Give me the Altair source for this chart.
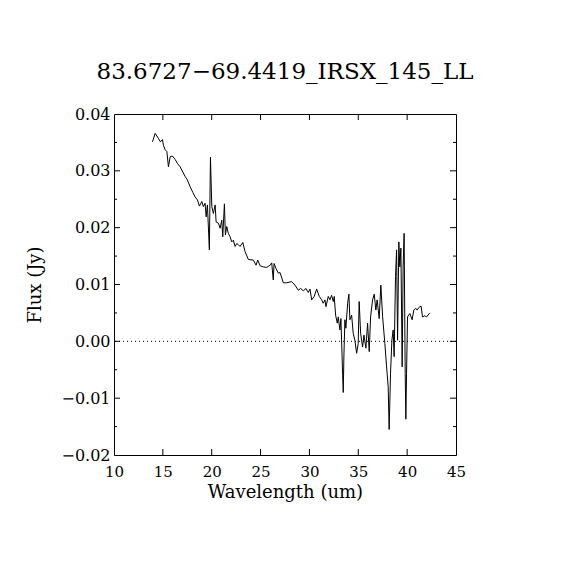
import altair as alt
import pandas as pd

# Spectrum
wavelength = [13.94, 14.21, 14.55, 14.75, 14.96, 15.06, 15.24, 15.41, 15.57, 15.75,
              15.98, 16.26, 16.49, 16.77, 17.04, 17.28, 17.51, 17.79, 18.07, 18.30,
              18.54, 18.74, 18.99, 19.15, 19.32, 19.43, 19.56, 19.76, 19.87, 20.01,
              20.17, 20.35, 20.45, 20.68, 20.86, 21.03, 21.13, 21.30, 21.40, 21.54,
              21.70, 21.88, 22.05, 22.22, 22.39, 22.56, 22.73, 22.90, 23.18, 23.41,
              23.75, 24.26, 24.54, 24.71, 24.95, 25.28, 25.63, 25.97, 26.14, 26.30,
              26.38, 26.58, 26.82, 26.99, 27.33, 27.67, 28.18, 28.52, 28.86, 29.10,
              29.37, 29.65, 29.88, 30.06, 30.23, 30.49, 30.74, 31.01, 31.25, 31.41,
              31.59, 31.69, 31.93, 32.10, 32.27, 32.44, 32.54, 32.68, 32.85, 32.95,
              33.12, 33.22, 33.40, 33.46, 33.53, 33.63, 33.73, 33.91, 34.04, 34.14,
              34.32, 34.48, 34.65, 34.83, 34.99, 35.09, 35.24, 35.44, 35.58, 35.78,
              35.95, 36.12, 36.26, 36.46, 36.63, 36.80, 36.93, 37.14, 37.31, 37.49,
              37.72, 37.90, 38.06, 38.16, 38.30, 38.44, 38.57, 38.67, 38.81, 38.92,
              39.02, 39.15, 39.25, 39.36, 39.49, 39.59, 39.69, 39.80, 39.87, 39.94,
              40.04, 40.28, 40.51, 40.68, 40.89, 41.02, 41.23, 41.43, 41.57, 41.81,
              41.98, 42.32]
flux = [0.0351, 0.0366, 0.0357, 0.0351, 0.0355, 0.0345, 0.0337, 0.0334, 0.0307, 0.0325,
        0.0326, 0.0320, 0.0313, 0.0307, 0.0298, 0.0290, 0.0284, 0.0272, 0.0262, 0.0254,
        0.0249, 0.0238, 0.0246, 0.0237, 0.0243, 0.0219, 0.0240, 0.0161, 0.0324, 0.0237,
        0.0225, 0.0240, 0.0210, 0.0208, 0.0199, 0.0213, 0.0184, 0.0242, 0.0187, 0.0202,
        0.0190, 0.0184, 0.0175, 0.0178, 0.0167, 0.0172, 0.0170, 0.0167, 0.0174, 0.0158,
        0.0144, 0.0143, 0.0134, 0.0143, 0.0133, 0.0131, 0.0130, 0.0134, 0.0138, 0.0108,
        0.0137, 0.0128, 0.0120, 0.0121, 0.0103, 0.0103, 0.0105, 0.0099, 0.0090, 0.0093,
        0.0089, 0.0093, 0.0086, 0.0092, 0.0073, 0.0079, 0.0092, 0.0079, 0.0073, 0.0067,
        0.0073, 0.0061, 0.0079, 0.0073, 0.0081, 0.0070, 0.0079, 0.0046, 0.0032, 0.0043,
        0.0020, 0.0040, -0.0059, -0.0090, -0.0024, 0.0038, 0.0023, 0.0067, 0.0083, 0.0038,
        0.0046, 0.0014, 0.0002, -0.0021, -0.0004, 0.0070, 0.0014, -0.0010, 0.0011, -0.0012,
        0.0032, -0.0018, 0.0043, 0.0073, 0.0083, 0.0055, 0.0073, 0.0040, 0.0099, 0.0043,
        -0.0004, -0.0045, -0.0080, -0.0155, -0.0056, 0.0002, 0.0020, -0.0027, 0.0114, 0.0161,
        0.0002, 0.0175, 0.0131, 0.0164, -0.0045, 0.0131, 0.0190, -0.0056, -0.0137, -0.0056,
        0.0043, 0.0049, 0.0038, 0.0055, 0.0058, 0.0055, 0.0060, 0.0062, 0.0043, 0.0045,
        0.0043, 0.0050]

title_text = "83.6727\u221269.4419_IRSX_145_LL"
x_title = "Wavelength (um)"
y_title = "Flux (Jy)"
x_label_values = [10, 15, 20, 25, 30, 35, 40, 45]
y_label_values = [-0.02, -0.01, 0.0, 0.01, 0.02, 0.03, 0.04]
x_major_ticks = [15, 20, 25, 30, 35, 40]
y_major_ticks = [-0.01, 0.0, 0.01, 0.02, 0.03]
y_minor_ticks = [-0.015, -0.005, 0.005, 0.015, 0.025, 0.035]
zero_level = [0.0]

FONT = "DejaVu Serif"
W, H = 342, 341

spec = pd.DataFrame({"w": wavelength, "f": flux})
xs = alt.Scale(domain=[10, 45], nice=False, zero=False)
ys = alt.Scale(domain=[-0.02, 0.04], nice=False, zero=False)

x_axis = alt.Axis(values=x_label_values, tickSize=0, domain=False, grid=False,
                  labelFont=FONT, labelFontSize=15, labelColor="black",
                  labelPadding=9, labelFlush=False, labelOverlap=False,
                  titleFont=FONT, titleFontSize=18, titleFontWeight="normal",
                  titleColor="black", titleY=37, titleBaseline="middle")
y_axis = alt.Axis(values=y_label_values, tickSize=0, domain=False, grid=False,
                  labelExpr="datum.value < 0 ? '\u2212' + format(-datum.value, '.2f') : format(datum.value, '.2f')",
                  labelFont=FONT, labelFontSize=16, labelColor="black",
                  labelPadding=4, labelFlush=False, labelOverlap=False,
                  titleFont=FONT, titleFontSize=18, titleFontWeight="normal",
                  titleColor="black", titleX=-79, titleY=H / 2,
                  titleAngle=270, titleAlign="center", titleBaseline="middle")


def X(field):
    return alt.X(field, scale=xs, title=x_title, axis=x_axis)


def Y(field):
    return alt.Y(field, scale=ys, title=y_title, axis=y_axis)


line = alt.Chart(spec).mark_line(color="black", strokeWidth=1, interpolate="linear").encode(
    x=X("w:Q"), y=Y("f:Q"))

zero = alt.Chart(pd.DataFrame({"z": zero_level})).mark_rule(
    color="black", strokeWidth=1, strokeDash=[1, 3]
).encode(y=Y("z:Q"))

xt = pd.DataFrame({"v": x_major_ticks})
ymaj = pd.DataFrame({"v": y_major_ticks})
ymin = pd.DataFrame({"v": y_minor_ticks})

xb = alt.Chart(xt).mark_rule(color="black", strokeWidth=1).encode(
    x=X("v:Q"), y=alt.value(H), y2=alt.value(H - 6))
xtop = alt.Chart(xt).mark_rule(color="black", strokeWidth=1).encode(
    x=X("v:Q"), y=alt.value(0), y2=alt.value(6))
yl = alt.Chart(ymaj).mark_rule(color="black", strokeWidth=1).encode(
    y=Y("v:Q"), x=alt.value(0), x2=alt.value(6))
yr = alt.Chart(ymaj).mark_rule(color="black", strokeWidth=1).encode(
    y=Y("v:Q"), x=alt.value(W), x2=alt.value(W - 6))
ylm = alt.Chart(ymin).mark_rule(color="black", strokeWidth=1).encode(
    y=Y("v:Q"), x=alt.value(0), x2=alt.value(3))
yrm = alt.Chart(ymin).mark_rule(color="black", strokeWidth=1).encode(
    y=Y("v:Q"), x=alt.value(W), x2=alt.value(W - 3))

chart = alt.layer(line, zero, xb, xtop, yl, yr, ylm, yrm).properties(
    width=W, height=H,
    title=alt.TitleParams(title_text, font=FONT, fontSize=23, fontWeight="normal",
                          color="black", anchor="middle", baseline="alphabetic", offset=4),
    autosize=alt.AutoSizeParams(type="none"),
    padding={"left": 106, "top": 106, "right": 106, "bottom": 107},
    background="white",
).configure_view(stroke="black", strokeWidth=1)

chart.save("out.html", embed_options={"renderer": "svg", "actions": False})
